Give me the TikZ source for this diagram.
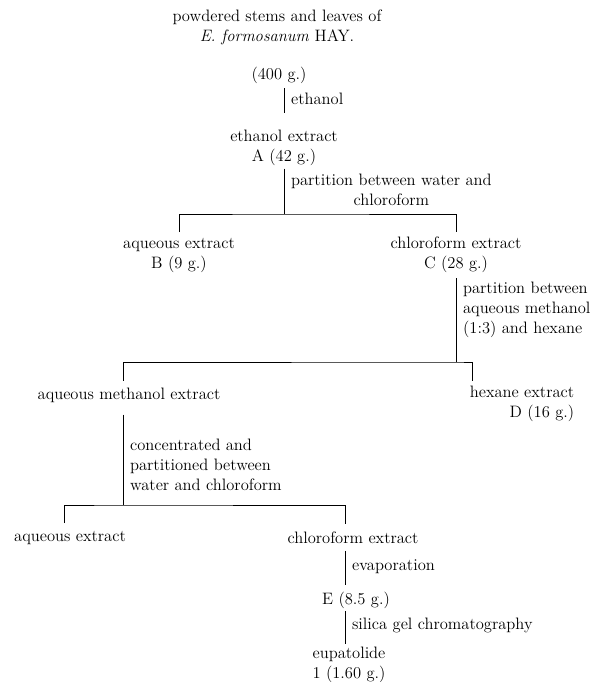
\documentclass[tikz,border=0pt]{standalone}
\usetikzlibrary{positioning}
\begin{document}
\begin{tikzpicture}[x=0.75pt, y=-0.75pt,
  font=\fontsize{12.4}{15}\selectfont,
  stage/.style={align=center, inner sep=2pt},
  link/.style={line width=0.65pt},
  lab/.style={anchor=west, align=left, inner sep=0pt, xshift=5pt}]
\useasboundingbox (0,0) rectangle (602,682);
% ---- plant material and extraction ----
\node[stage] (src) at (277,27) {powdered stems and leaves of\\ \textit{E. formosanum} HAY.};
\node[stage] (amt) at (279,75) {(400 g.)};
\node[stage] (ethex) at (284,148) {ethanol extract\\ A (42 g.)};
\draw[link, shorten <=1.5pt, shorten >=10.5pt] (ethex.north |- amt.south) -- node[lab, pos=0.31] {ethanol} (ethex.north);
% ---- first partition ----
\node[stage] (aqB) at (179,255) {aqueous extract\\ B (9 g.)};
\node[stage] (chlC) at (456,255) {chloroform extract\\ C (28 g.)};
\coordinate (j1) at (ethex.south |- 0,214);
\draw[link] (ethex.south) -- node[lab, align=center, pos=0.47] {partition between water and\\ chloroform} (j1);
\draw[link, shorten <=2pt, shorten >=2pt] (aqB.north) |- (j1) -| (chlC.north);
% ---- second partition ----
\node[stage] (ame) at (129,395) {aqueous methanol extract};
\node[stage, align=right] (hex) at (522,404) {hexane extract\\ D (16 g.)};
\coordinate (j2) at (chlC.south |- 0,362);
\coordinate (amtop) at ([xshift=-4.5pt]ame.north);
\coordinate (ambot) at ([xshift=-4.5pt]ame.south);
\coordinate (hxtop) at ([xshift=4.5pt]hex.north west);
\draw[link, shorten <=2pt] (chlC.south) -- node[lab, pos=0.4] {partition between\\ aqueous methanol\\ (1:3) and hexane} (j2);
\draw[link, shorten <=3pt, shorten >=2pt] (amtop) |- (j2) -| (hxtop);
% ---- third partition ----
\node[stage] (aq2) at (70,538) {aqueous extract};
\node[stage] (chl2) at (353,538) {chloroform extract};
\coordinate (j3) at (ambot |- 0,505);
\coordinate (aqtop) at ([xshift=-4.5pt]aq2.north);
\coordinate (cltop) at ([xshift=-6pt]chl2.north);
\coordinate (col) at ([xshift=-6pt]chl2.south);
\draw[link, shorten <=7pt] (ambot) -- node[lab, pos=0.6] {concentrated and\\ partitioned between\\ water and chloroform} (j3);
\draw[link, shorten <=4pt, shorten >=4pt] (aqtop) |- (j3) -| (cltop);
% ---- isolation ----
\node[stage] (prE) at (356,600) {E (8.5 g.)};
\node[stage] (eup) at (349,665) {eupatolide\\ 1 (1.60 g.)};
\draw[link, shorten <=3pt, shorten >=3pt] (col) -- node[lab, pos=0.48] {evaporation} (col |- prE.north);
\draw[link] (col |- prE.south) -- node[lab, pos=0.44] {silica gel chromatography} (col |- eup.north);
\end{tikzpicture}
\end{document}
